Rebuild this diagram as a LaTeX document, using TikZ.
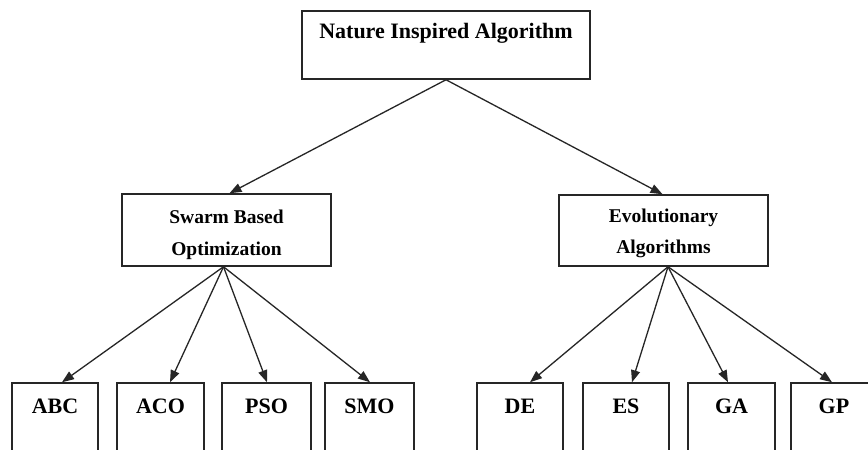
\documentclass[tikz,border=0pt]{standalone}
\usepackage{fontspec}
\setmainfont{Liberation Serif}
\usetikzlibrary{arrows.meta}
\begin{document}
\begin{tikzpicture}[x=1pt,y=-1pt,
  box/.style={draw=black!85,line width=1.5pt,rectangle,inner sep=0pt,fill=none},
  lbl/.style={inner sep=0pt,anchor=base,font=\bfseries\fontsize{22}{26}\selectfont},
  midlbl/.style={inner sep=0pt,anchor=base,font=\bfseries\fontsize{19.5}{23}\selectfont},
  arr/.style={draw=black!85,line width=1.3pt,-{Triangle[length=12pt,width=9pt]}}]
\useasboundingbox (0,0) rectangle (868,450);
\clip (0,0) rectangle (868,450);
\fill[white] (0,0) rectangle (868,450);
% top
\node[box,minimum width=288pt,minimum height=68pt] (top) at (446,45) {};
\node[lbl] (ttop) at ([yshift=-28pt]top.north) {Nature Inspired Algorithm};
% middle
\node[box,minimum width=209pt,minimum height=72pt] (swarm) at (226.5,230) {};
\node[midlbl] (tsw1) at ([yshift=-30pt]swarm.north) {Swarm Based};
\node[midlbl] (tsw2) at ([yshift=-62pt]swarm.north) {Optimization};
\node[box,minimum width=209pt,minimum height=71pt] (evo) at (663.5,230.5) {};
\node[midlbl] (tev1) at ([yshift=-28pt]evo.north) {Evolutionary};
\node[midlbl] (tev2) at ([yshift=-59pt]evo.north) {Algorithms};
% bottom
\foreach \n/\x/\w/\t in {abc/55/86/ABC, aco/160.5/87/ACO, pso/266.5/89/PSO, smo/369.5/89/SMO,
                         de/520/86/DE, es/626/86/ES, ga/731.5/87/GA, gp/834/86/GP}{
  \node[box,minimum width=\w pt,minimum height=90pt] (\n) at (\x,428) {};
  \node[lbl] (t\n) at ([yshift=-31pt]\n.north) {\t};
}
% connectors
\draw[arr] (top.south) -- ([xshift=3pt]swarm.north);
\draw[arr] (top.south) -- ([xshift=-1pt]evo.north);
\draw[arr] ([xshift=-3pt]swarm.south) -- ([xshift=7pt]abc.north);
\draw[arr] ([xshift=-3pt]swarm.south) -- ([xshift=9.5pt]aco.north);
\draw[arr] ([xshift=-3pt]swarm.south) -- ([xshift=0.5pt]pso.north);
\draw[arr] ([xshift=-3pt]swarm.south) -- ([xshift=0.5pt]smo.north);
\draw[arr] ([xshift=4.5pt]evo.south) -- ([xshift=10pt]de.north);
\draw[arr] ([xshift=4.5pt]evo.south) -- ([xshift=6pt]es.north);
\draw[arr] ([xshift=4.5pt]evo.south) -- ([xshift=-3.5pt]ga.north);
\draw[arr] ([xshift=4.5pt]evo.south) -- ([xshift=-2pt]gp.north);
\end{tikzpicture}
\end{document}
